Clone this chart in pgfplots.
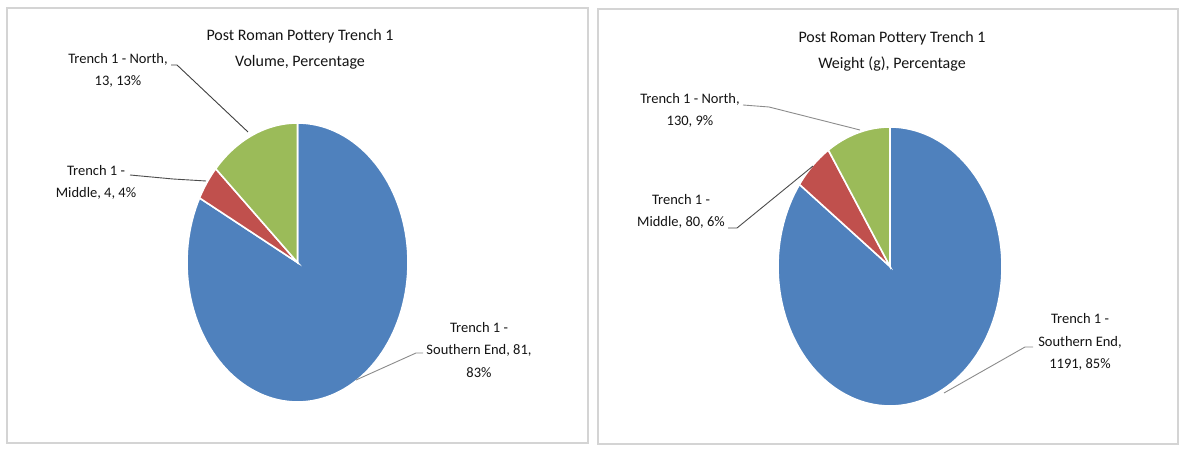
\documentclass[border=0pt]{standalone}
\usepackage{pgfplots}
\pgfplotsset{compat=1.18}
\usepackage{pgfplotstable}
\usepackage{fontspec}
\setmainfont{Carlito}

\definecolor{sliceblue}{HTML}{4F81BD}
\definecolor{slicered}{HTML}{C0504D}
\definecolor{slicegreen}{HTML}{9BBB59}
\definecolor{framegray}{HTML}{D4D4D4}
\definecolor{leadgray}{HTML}{8C8C8C}
\definecolor{txt}{HTML}{141414}

% Trench 1 finds, by area
\pgfplotstableread{
part   value
South  81
Middle 4
North  13
}\volumetable
\pgfplotstableread{
part   value
South  1191
Middle 80
North  130
}\weighttable

% slice boundaries, clockwise from 12 o'clock: South, Middle, North
\newcommand\pieangles[1]{%
  \pgfplotstablegetelem{0}{value}\of#1\pgfmathsetmacro\vA{\pgfplotsretval}%
  \pgfplotstablegetelem{1}{value}\of#1\pgfmathsetmacro\vB{\pgfplotsretval}%
  \pgfplotstablegetelem{2}{value}\of#1\pgfmathsetmacro\vC{\pgfplotsretval}%
  \pgfmathsetmacro\total{\vA+\vB+\vC}%
  \pgfmathsetmacro\fA{\vA/\total}%
  \pgfmathsetmacro\fB{\vB/\total}%
  \pgfmathsetmacro\aA{90-360*\fA}%
  \pgfmathsetmacro\aB{\aA-360*\fB}%
}

\pgfplotsset{
  pie axis/.style={hide axis, scale only axis, anchor=center,
    xmin=-1, xmax=1, ymin=-1, ymax=1, clip=false},
  slice/.style={draw=white, line width=1.6bp, samples=120},
}

\begin{document}
\begin{tikzpicture}[x=1bp, y=1bp,
  lbl/.style={align=center, text=txt, font=\fontsize{14.5bp}{22.5bp}\selectfont, inner sep=0pt},
  ttl/.style={align=center, text=txt, font=\fontsize{16bp}{26bp}\selectfont, inner sep=0pt},
  lead/.style={draw=leadgray, line width=0.9bp}]
\useasboundingbox (0,0) rectangle (1181,450);
\fill[white] (0,0) rectangle (1181,450);

% panel frames
\draw[framegray, line width=1.3bp] (7,7) rectangle (588,442);
\draw[framegray, line width=1.3bp] (598,6) rectangle (1178,441);

% ---- volume ----
\pieangles{\volumetable}
\begin{axis}[pie axis, at={(297.5bp,187.5bp)}, width=221bp, height=279bp]
  \addplot[slice, fill=sliceblue,  domain=\aA:90]   ({cos(x)},{sin(x)}) -- (axis cs:0,0) -- cycle;
  \addplot[slice, fill=slicered,   domain=\aB:\aA]  ({cos(x)},{sin(x)}) -- (axis cs:0,0) -- cycle;
  \addplot[slice, fill=slicegreen, domain=-270:\aB] ({cos(x)},{sin(x)}) -- (axis cs:0,0) -- cycle;
\end{axis}
\node[ttl] at (300,401) {Post Roman Pottery Trench 1\\Volume, Percentage};
\node[lbl] at (118,379.5) {Trench 1 - North,\\13, 13\%};
\draw[lead, draw=black!75] (171,385) -- (177,385) -- (248,318);
\node[lbl] at (96,267.5) {Trench 1 -\\Middle, 4, 4\%};
\draw[lead, draw=black!70] (130,275) -- (173,271) -- (206,269);
\node[lbl] at (479,100) {Trench 1 -\\Southern End, 81,\\83\%};
\draw[lead] (423,97) -- (416,97) -- (356,70);

% ---- weight ----
\pieangles{\weighttable}
\begin{axis}[pie axis, at={(890bp,183.5bp)}, width=224bp, height=279bp]
  \addplot[slice, fill=sliceblue,  domain=\aA:90]   ({cos(x)},{sin(x)}) -- (axis cs:0,0) -- cycle;
  \addplot[slice, fill=slicered,   domain=\aB:\aA]  ({cos(x)},{sin(x)}) -- (axis cs:0,0) -- cycle;
  \addplot[slice, fill=slicegreen, domain=-270:\aB] ({cos(x)},{sin(x)}) -- (axis cs:0,0) -- cycle;
\end{axis}
\node[ttl] at (892,398.5) {Post Roman Pottery Trench 1\\Weight (g), Percentage};
\node[lbl] at (690,339.5) {Trench 1 - North,\\130, 9\%};
\draw[lead] (743,345) -- (769,343) -- (860,320);
\node[lbl] at (681,238.5) {Trench 1 -\\Middle, 80, 6\%};
\draw[lead, draw=black!70] (728,222) -- (737,222) -- (813,284);
\node[lbl] at (1080,108) {Trench 1 -\\Southern End,\\1191, 85\%};
\draw[lead] (1033,103) -- (1025,103) -- (944,57);
\end{tikzpicture}
\end{document}
